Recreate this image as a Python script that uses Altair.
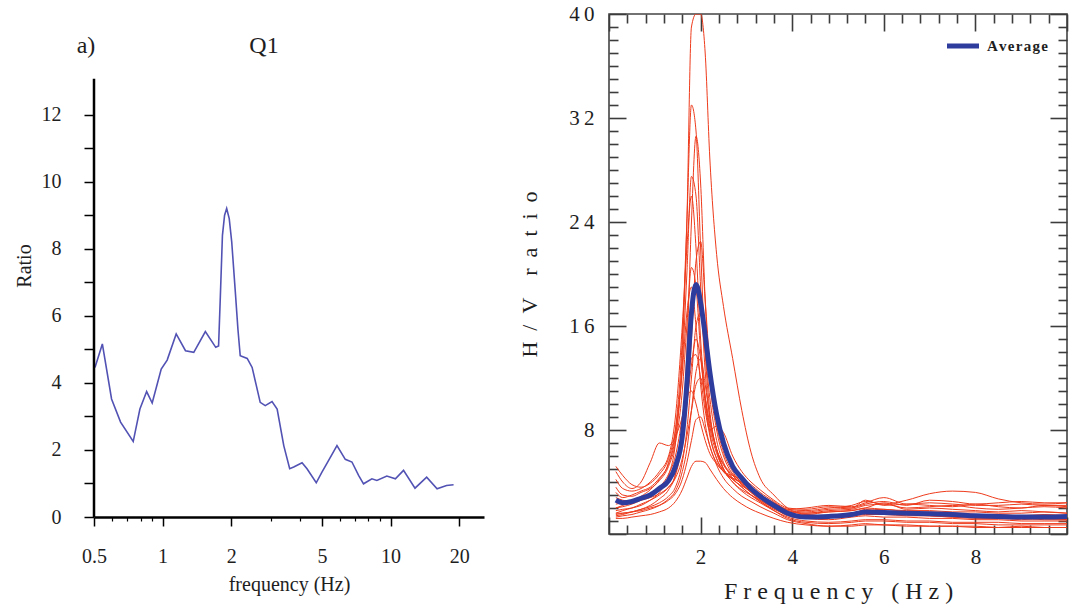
import altair as alt
import pandas as pd

FONT = "Liberation Serif"
TXT = "#1e1e1e"

# ---------------- Left panel: Q1 ----------------
Q1_FREQ = [0.505, 0.544, 0.597, 0.654, 0.743, 0.795, 0.851, 0.900, 0.986, 1.047,
           1.147, 1.26, 1.37, 1.54, 1.71, 1.76, 1.79, 1.83, 1.87, 1.91,
           1.96, 2.01, 2.08, 2.14, 2.19, 2.35, 2.47, 2.68, 2.82, 3.02,
           3.18, 3.40, 3.61, 3.76, 4.09, 4.30, 4.72, 5.0, 5.35, 5.82,
           6.33, 6.77, 7.24, 7.61, 8.28, 8.71, 9.63, 10.5, 11.4, 12.8,
           14.4, 16.0, 17.6, 18.9]
Q1_RATIO = [4.46, 5.16, 3.52, 2.83, 2.25, 3.22, 3.74, 3.40, 4.41, 4.68,
            5.46, 4.96, 4.91, 5.53, 5.06, 5.10, 6.5, 8.4, 9.0, 9.2,
            8.9, 8.2, 6.8, 5.6, 4.81, 4.73, 4.46, 3.42, 3.32, 3.44,
            3.22, 2.13, 1.44, 1.49, 1.62, 1.44, 1.02, 1.34, 1.69, 2.13,
            1.72, 1.64, 1.24, 0.99, 1.14, 1.09, 1.22, 1.14, 1.39, 0.86,
            1.19, 0.84, 0.94, 0.96]
Q1_MAJOR_TICKS = [0.5, 1, 2, 5, 10, 20]
Q1_MINOR_TICKS = [0.6, 0.7, 0.8, 0.9, 3, 4, 6, 7, 8, 9]
Q1_Y_TICKS = list(range(0, 13))
Q1_AXIS_TOP = 13.07          # the drawn y axis line ends here
Q1_X_MIN = 0.5

# ---------------- Right panel: H/V ratio ----------------
HV_FREQ = [0.15, 0.3, 0.5, 0.7, 0.9, 1.1, 1.3, 1.45, 1.6, 1.7,
           1.8, 1.9, 2.0, 2.1, 2.2, 2.35, 2.5, 2.7, 2.9, 3.1,
           3.3, 3.6, 3.9, 4.3, 4.8, 5.3, 5.6, 6.0, 6.5, 7.0,
           7.5, 8.0, 8.5, 9.0, 9.5, 10.0]
HV_AVERAGE = [2.6, 2.4, 2.5, 2.75, 3.0, 3.5, 4.1, 5.2, 7.5, 11.5,
              17.0, 19.2, 17.8, 15.3, 12.5, 9.2, 7.0, 5.2, 4.3, 3.5,
              2.9, 2.2, 1.6, 1.3, 1.35, 1.5, 1.7, 1.65, 1.6, 1.55,
              1.5, 1.4, 1.35, 1.3, 1.3, 1.35]
R01 = [1.6, 1.8, 2.0, 2.2, 2.6, 3.2, 4.5, 7.0, 14, 24, 39, 50, 46, 37, 29, 21.5, 17.5, 13.5, 9.5, 6.3,
       4.3, 3.0, 2.0, 1.5, 1.4, 1.6, 1.8, 1.7, 1.6, 1.7, 1.6, 1.5, 1.4, 1.3, 1.4, 1.3]
R02 = [2.0, 2.2, 2.5, 2.9, 3.4, 4.2, 5.5, 8.0, 15, 24, 33, 31, 22, 14, 9.5, 6.5, 5.0, 4.0, 3.4, 3.0,
       2.6, 2.0, 1.4, 1.2, 1.3, 1.5, 1.9, 1.6, 1.5, 1.4, 1.3, 1.2, 1.2, 1.1, 1.2, 1.1]
R03 = [1.4, 1.5, 1.7, 1.9, 2.2, 2.7, 3.4, 4.6, 8, 14, 24, 30.6, 27, 18, 12, 8, 6, 4.6, 3.8, 3.2,
       2.7, 2.1, 1.6, 1.3, 1.3, 1.4, 1.5, 1.5, 1.4, 1.4, 1.3, 1.3, 1.2, 1.2, 1.1, 1.1]
R04 = [3.2, 2.8, 3.0, 3.3, 3.6, 4.3, 5.4, 7.5, 13, 20, 27.5, 26, 19, 12.5, 9, 6.5, 5.3, 4.5, 3.8, 3.3,
       2.8, 2.2, 1.7, 1.6, 1.8, 1.9, 2.2, 2.3, 2.0, 2.1, 2.2, 2.0, 1.9, 2.0, 2.1, 2.0]
R05 = [4.2, 3.5, 3.3, 3.5, 4.0, 4.8, 6.0, 9, 16, 22, 26, 22, 15, 10.5, 7.8, 5.8, 4.8, 4.2, 3.6, 3.0,
       2.5, 1.9, 1.5, 1.3, 1.4, 1.6, 1.8, 1.9, 1.7, 1.6, 1.6, 1.5, 1.5, 1.4, 1.5, 1.4]
R06 = [1.8, 1.9, 2.0, 2.3, 2.6, 3.0, 3.6, 4.5, 7, 10, 15, 21, 22.5, 18, 13, 8.5, 6.3, 4.8, 3.9, 3.2,
       2.6, 2.0, 1.5, 1.2, 1.1, 1.3, 1.4, 1.3, 1.3, 1.2, 1.2, 1.1, 1.1, 1.0, 1.0, 1.0]
R07 = [3.6, 3.0, 2.9, 3.2, 3.5, 4.1, 5.2, 7, 11, 16, 20.5, 19, 14, 10, 7.6, 5.8, 4.9, 4.3, 3.9, 3.4,
       2.8, 2.1, 1.6, 1.5, 1.7, 1.8, 2.0, 2.4, 1.9, 2.0, 1.9, 1.8, 1.7, 1.8, 1.7, 1.6]
R08 = [1.5, 1.6, 1.7, 1.9, 2.1, 2.4, 2.9, 3.6, 5.5, 8, 12, 16, 17, 14, 10.5, 7.2, 5.5, 4.3, 3.6, 3.0,
       2.5, 1.8, 1.2, 0.9, 0.8, 0.9, 1.0, 1.0, 0.9, 0.9, 0.8, 0.8, 0.7, 0.7, 0.7, 0.7]
R09 = [2.3, 2.4, 2.6, 2.8, 3.1, 3.5, 4.2, 5.2, 7.5, 10, 13, 15, 13.5, 10.5, 8.2, 6.2, 5.0, 4.2, 3.7, 3.3,
       2.9, 2.3, 1.8, 1.7, 1.9, 2.0, 2.3, 2.5, 2.2, 2.6, 2.5, 2.3, 2.4, 2.5, 2.4, 2.4]
R10 = [1.3, 1.4, 1.5, 1.7, 1.9, 2.2, 2.7, 3.3, 4.8, 6.5, 9.5, 12.5, 13.5, 11.5, 9.0, 6.5, 5.0, 4.0, 3.3, 2.8,
       2.4, 1.8, 1.3, 1.0, 0.9, 1.0, 1.1, 1.1, 1.0, 1.0, 0.9, 0.9, 0.9, 0.8, 0.8, 0.8]
R11 = [2.8, 2.6, 2.5, 2.6, 2.8, 3.1, 3.6, 4.3, 5.8, 7.5, 9.5, 11.5, 12, 10.5, 8.5, 6.5, 5.4, 4.6, 4.0, 3.5,
       3.0, 2.4, 1.9, 1.8, 2.0, 2.2, 2.5, 2.3, 2.6, 3.1, 3.3, 3.2, 2.7, 2.4, 2.3, 2.4]
R12 = [1.6, 1.6, 1.7, 1.8, 2.0, 2.2, 2.6, 3.1, 4.2, 5.5, 7.2, 8.8, 9.0, 8.0, 6.8, 5.3, 4.3, 3.5, 2.9, 2.5,
       2.1, 1.6, 1.1, 0.8, 0.6, 0.7, 0.8, 0.7, 0.7, 0.6, 0.6, 0.6, 0.5, 0.6, 0.5, 0.5]
R13 = [1.2, 1.2, 1.3, 1.4, 1.5, 1.7, 2.0, 2.5, 3.4, 4.3, 5.2, 5.6, 5.6, 5.5, 5.0, 4.2, 3.5, 2.8, 2.3, 1.9,
       1.6, 1.2, 0.9, 0.7, 0.6, 0.6, 0.7, 0.7, 0.6, 0.6, 0.6, 0.5, 0.5, 0.5, 0.5, 0.5]
R14 = [4.8, 4.0, 3.5, 4.0, 5.5, 7.0, 6.8, 7.5, 9, 10.5, 11, 10, 8.5, 7.2, 6.2, 5.4, 4.8, 4.5, 4.2, 3.8,
       3.2, 2.5, 1.9, 2.0, 2.2, 2.1, 2.4, 2.8, 2.3, 2.4, 2.3, 2.2, 2.2, 2.3, 2.2, 2.2]
R15 = [2.0, 2.1, 2.3, 2.6, 3.0, 3.6, 4.6, 6, 9, 11.5, 13.5, 13.8, 12, 9.5, 8.0, 8.3, 7.8, 6.0, 4.8, 4.0,
       3.4, 2.6, 2.0, 1.9, 2.1, 2.0, 2.6, 2.2, 2.3, 2.2, 2.1, 2.3, 2.1, 2.0, 2.2, 2.1]
R16 = [5.2, 4.5, 3.8, 3.6, 3.9, 4.6, 5.8, 8, 12.5, 17, 19, 16, 11.5, 8.5, 6.8, 5.5, 4.8, 4.3, 4.0, 3.6,
       3.0, 2.4, 1.8, 1.6, 1.7, 1.8, 2.0, 1.9, 1.8, 1.8, 1.7, 1.7, 1.6, 1.6, 1.7, 1.6]
HV_CURVES = [R01, R02, R03, R04, R05, R06, R07, R08, R09, R10, R11, R12, R13, R14, R15, R16]

HV_X_MAJOR = [0, 2, 4, 6, 8, 10]
HV_X_MINOR = [round(0.4 * k, 1) for k in range(1, 26) if k % 5 != 0]
HV_Y_MAJOR = [0, 8, 16, 24, 32, 40]
HV_Y_MINOR = [v for v in range(1, 40) if v % 8 != 0]

LEFT_PANEL_LABEL = "a)"
LEFT_TITLE = "Q1"
LEGEND_LABEL = "A\u200av\u200ae\u200ar\u200aa\u200ag\u200ae"
FREQ_TITLE = "F r e q u e n c y\u00a0\u00a0\u00a0( H z )"
HV_TITLE = "H\u2002/\u2002V\u2002\u2002r\u2002a\u2002t\u2002i\u2002o"
AVG_COLOR = "#2e3c9e"

# ---------------- data frames ----------------
q1_df = pd.DataFrame({"f": Q1_FREQ, "r": Q1_RATIO})
rows = []
for i, curve in enumerate(HV_CURVES):
    for f, v in zip(HV_FREQ, curve):
        rows.append({"curve": f"c{i+1:02d}", "f": f, "v": v})
red_df = pd.DataFrame(rows)
avg_df = pd.DataFrame({"f": HV_FREQ, "v": HV_AVERAGE})

# ---------------- left chart ----------------
lx_scale = alt.Scale(type="log", domain=[Q1_X_MIN, 25.7], nice=False)
ly_scale = alt.Scale(domain=[0, 15.0], nice=False)

x_left_major = alt.Axis(orient="bottom", values=Q1_MAJOR_TICKS, format="~g", grid=False,
                        domainColor="black", domainWidth=2.5, tickColor="black", tickWidth=1.5,
                        tickSize=9, labelFont=FONT, labelFontSize=20, labelColor=TXT,
                        labelPadding=20, labelFlush=False,
                        title="frequency (Hz)", titleFont=FONT, titleFontSize=20,
                        titleFontWeight="normal", titleColor=TXT, titlePadding=8)
x_left_minor = alt.Axis(orient="bottom", values=Q1_MINOR_TICKS, grid=False, domain=False,
                        labels=False, tickColor="black", tickWidth=1.2, tickSize=4, title=None)
y_left = alt.Axis(orient="left", values=Q1_Y_TICKS, grid=False, domain=False,
                  tickColor="black", tickWidth=1.5, tickSize=10, labelFlush=False,
                  labelExpr="datum.value % 2 == 0 ? datum.label : ''",
                  labelFont=FONT, labelFontSize=20, labelColor=TXT, labelPadding=23,
                  title="Ratio", titleFont=FONT, titleFontSize=20, titleFontWeight="normal",
                  titleColor=TXT, titlePadding=7)
y_left_blank = alt.Axis(orient="left", grid=False, domain=False, ticks=False, labels=False,
                        title=None)

left_line = alt.Chart(q1_df).mark_line(color="#5252b4", strokeWidth=1.6).encode(
    x=alt.X("f:Q", scale=lx_scale, axis=x_left_major),
    y=alt.Y("r:Q", scale=ly_scale, axis=y_left),
)
left_minor = alt.Chart(q1_df).mark_line(strokeOpacity=0).encode(
    x=alt.X("f:Q", scale=lx_scale, axis=x_left_minor),
    y=alt.Y("r:Q", scale=ly_scale, axis=y_left_blank),
)
left_axis_line = alt.Chart(pd.DataFrame({"a": [0]})).mark_rule(
    color="black", strokeWidth=2.5
).encode(
    x=alt.XDatum(Q1_X_MIN, axis=None),
    y=alt.YDatum(0, axis=None),
    y2=alt.Y2Datum(Q1_AXIS_TOP),
)
left_texts = alt.Chart(pd.DataFrame({"t": [LEFT_PANEL_LABEL]})).mark_text(
    font=FONT, fontSize=24, color=TXT
).encode(text="t:N", x=alt.value(-8), y=alt.value(32))
left_title = alt.Chart(pd.DataFrame({"t": [LEFT_TITLE]})).mark_text(
    font=FONT, fontSize=24, color=TXT
).encode(text="t:N", x=alt.value(170), y=alt.value(32))

left = alt.layer(left_line, left_minor, left_axis_line, left_texts, left_title).resolve_axis(
    x="independent", y="independent"
).properties(
    width=390, height=503,
    view=alt.ViewBackground(stroke=None),
)

# ---------------- right chart ----------------
MAJ, MIN = 17, 9
AXC = "#3c3c3c"
rx_scale = alt.Scale(domain=[0, 10], nice=False, zero=False)
ry_scale = alt.Scale(domain=[0, 40], nice=False, clamp=True)

def tick_axis(orient, values, size, **kw):
    base = dict(orient=orient, values=values, offset=-size, tickSize=size, domain=False,
                grid=False, tickColor=AXC, tickWidth=1.6, labels=False, title=None)
    base.update(kw)
    return alt.Axis(**base)

x_bot_major = tick_axis("bottom", HV_X_MAJOR, MAJ, labels=True, labelFlush=False,
                        labelExpr="datum.value == 0 || datum.value == 10 ? '' : datum.label",
                        labelFont=FONT, labelFontSize=21, labelColor=TXT, labelPadding=12,
                        title=FREQ_TITLE, titleFont=FONT, titleFontSize=24,
                        titleFontWeight="normal", titleColor=TXT, titlePadding=12)
y_left_major = tick_axis("left", HV_Y_MAJOR, MAJ, labels=True, labelFlush=False,
                         labelExpr="datum.value == 0 ? '' : join(split(datum.label, ''), '\u2009')",
                         labelFont=FONT, labelFontSize=21, labelColor=TXT, labelPadding=15,
                         title=HV_TITLE, titleFont=FONT, titleFontSize=22,
                         titleFontWeight="normal", titleColor=TXT, titlePadding=27)

red = alt.Chart(red_df).mark_line(stroke="#ee3b1c", strokeWidth=1.0, clip=True,
                                  interpolate="monotone").encode(
    x=alt.X("f:Q", scale=rx_scale, axis=x_bot_major),
    y=alt.Y("v:Q", scale=ry_scale, axis=y_left_major),
    detail="curve:N",
)
avg = alt.Chart(avg_df).mark_line(stroke=AVG_COLOR, strokeWidth=5, clip=True,
                                  interpolate="monotone").encode(
    x=alt.X("f:Q", scale=rx_scale, axis=tick_axis("bottom", HV_X_MINOR, MIN)),
    y=alt.Y("v:Q", scale=ry_scale, axis=tick_axis("left", HV_Y_MINOR, MIN)),
)
frame_top = alt.Chart(avg_df).mark_line(strokeOpacity=0).encode(
    x=alt.X("f:Q", scale=rx_scale, axis=tick_axis("top", HV_X_MAJOR, MAJ)),
    y=alt.Y("v:Q", scale=ry_scale, axis=tick_axis("right", HV_Y_MAJOR, MAJ)),
)
frame_top_minor = alt.Chart(avg_df).mark_line(strokeOpacity=0).encode(
    x=alt.X("f:Q", scale=rx_scale, axis=tick_axis("top", HV_X_MINOR, MIN)),
    y=alt.Y("v:Q", scale=ry_scale, axis=tick_axis("right", HV_Y_MINOR, MIN)),
)
# legend (drawn as a key: swatch + label)
legend_key = alt.Chart(pd.DataFrame({"t": [LEGEND_LABEL]})).mark_rule(
    stroke=AVG_COLOR, strokeWidth=5
).encode(x=alt.value(338), x2=alt.value(370), y=alt.value(32))
legend_text = alt.Chart(pd.DataFrame({"t": [LEGEND_LABEL]})).mark_text(
    font=FONT, fontSize=15, fontWeight="bold", color=TXT, align="left", baseline="middle"
).encode(text="t:N", x=alt.value(378), y=alt.value(32))

right = alt.layer(red, avg, frame_top, frame_top_minor, legend_key, legend_text).resolve_axis(
    x="independent", y="independent"
).properties(
    width=458, height=520,
    view=alt.ViewBackground(stroke="#444", strokeWidth=1.6),
)

chart = alt.hconcat(left, right, spacing=33).properties(
    padding={"left": 14, "top": 2, "right": 0, "bottom": 0},
    background="white",
)

chart.save("out.html", embed_options={"renderer": "svg", "actions": False})
